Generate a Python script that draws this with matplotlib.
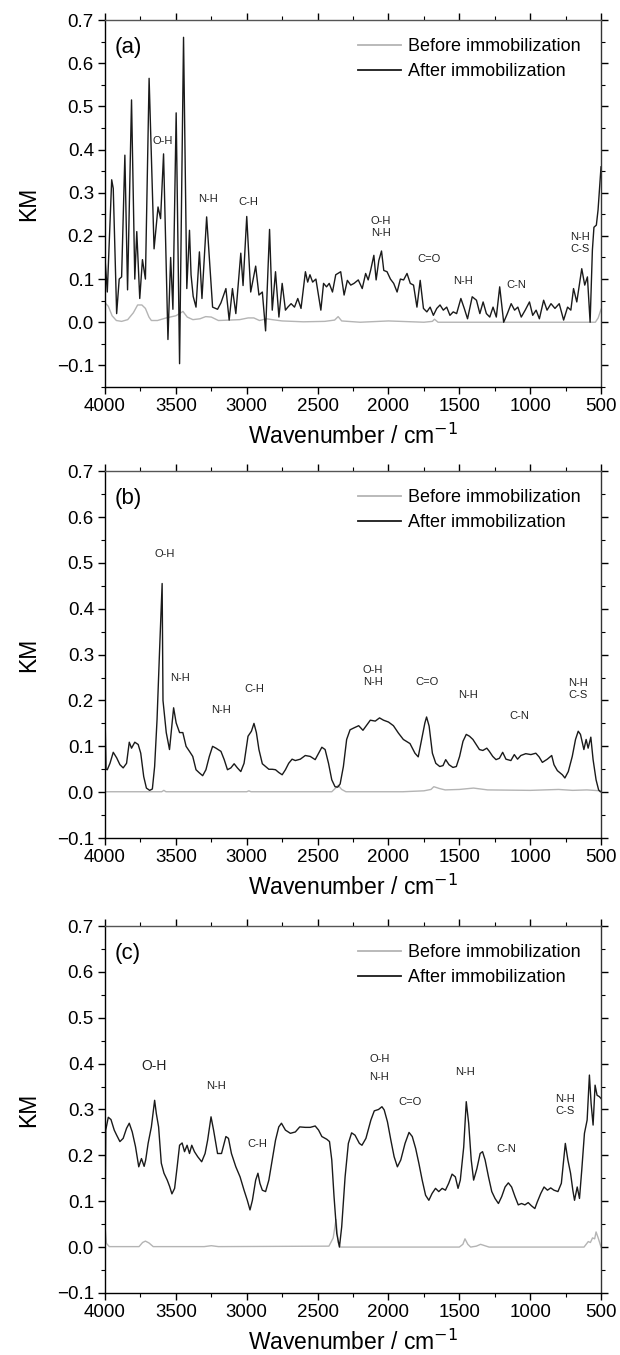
import matplotlib
matplotlib.use("Agg")
import matplotlib.pyplot as plt
from matplotlib.ticker import MultipleLocator, FuncFormatter

plt.rcParams['font.family'] = ['Liberation Sans', 'DejaVu Sans']

# === Panel (a) data ===
a_after_wn = [4000, 3984, 3953, 3942, 3918, 3900, 3883, 3860, 3841, 3813, 3790, 3776, 3755, 3736, 3715,
              3689, 3654, 3626, 3608, 3587, 3556, 3537, 3521, 3498, 3474, 3446, 3423, 3404, 3393, 3378,
              3358, 3334, 3316, 3283, 3241, 3206, 3182, 3147, 3124, 3101, 3077, 3042, 3026, 3000, 2972,
              2937, 2914, 2890, 2867, 2839, 2820, 2797, 2773, 2750, 2727, 2710, 2687, 2663, 2640, 2617,
              2586, 2570, 2554, 2535, 2512, 2477, 2458, 2437, 2418, 2395, 2372, 2337, 2313, 2290, 2266,
              2243, 2213, 2185, 2161, 2143, 2126, 2103, 2087, 2068, 2049, 2033, 2010, 1986, 1963, 1939,
              1916, 1893, 1869, 1846, 1823, 1799, 1776, 1753, 1729, 1706, 1683, 1659, 1636, 1613, 1589,
              1566, 1543, 1519, 1489, 1465, 1442, 1409, 1379, 1355, 1332, 1309, 1285, 1262, 1239, 1215,
              1187, 1161, 1134, 1110, 1087, 1063, 1035, 1005, 982, 958, 935, 905, 881, 853, 825,
              795, 764, 736, 713, 694, 671, 636, 615, 596, 577, 561, 550, 533, 521, 500]
a_after_km = [0.147, 0.07, 0.33, 0.31, 0.02, 0.10, 0.105, 0.387, 0.075, 0.515, 0.10, 0.21, 0.055, 0.145, 0.10,
              0.565, 0.17, 0.267, 0.24, 0.39, -0.04, 0.15, 0.03, 0.485, -0.096, 0.66, 0.078, 0.213, 0.11, 0.06,
              0.035, 0.163, 0.055, 0.244, 0.035, 0.03, 0.045, 0.078, 0.005, 0.078, 0.02, 0.16, 0.085, 0.245, 0.07,
              0.13, 0.063, 0.07, -0.02, 0.215, 0.028, 0.117, 0.012, 0.09, 0.028, 0.035, 0.043, 0.035, 0.055, 0.032,
              0.117, 0.093, 0.11, 0.093, 0.10, 0.028, 0.09, 0.082, 0.09, 0.07, 0.11, 0.117, 0.063, 0.097, 0.086,
              0.09, 0.098, 0.078, 0.113, 0.098, 0.12, 0.155, 0.098, 0.143, 0.165, 0.12, 0.117, 0.10, 0.09, 0.07,
              0.10, 0.098, 0.113, 0.09, 0.086, 0.035, 0.097, 0.032, 0.024, 0.035, 0.016, 0.032, 0.04, 0.028, 0.035,
              0.016, 0.024, 0.02, 0.055, 0.032, 0.008, 0.059, 0.051, 0.02, 0.047, 0.02, 0.012, 0.035, 0.012, 0.082,
              0.0, 0.02, 0.043, 0.028, 0.035, 0.012, 0.028, 0.047, 0.016, 0.028, 0.008, 0.051, 0.028, 0.043, 0.032,
              0.043, 0.005, 0.035, 0.028, 0.078, 0.047, 0.124, 0.086, 0.105, 0.0, 0.167, 0.22, 0.225, 0.26, 0.36]
a_before_wn = [4000, 3977, 3950, 3920, 3883, 3840, 3800, 3770, 3740, 3715, 3690, 3673, 3630, 3568, 3500,
               3450, 3420, 3380, 3330, 3290, 3250, 3200, 3120, 3050, 2990, 2950, 2910, 2860, 2820, 2750,
               2600, 2450, 2380, 2355, 2330, 2200, 2000, 1750, 1690, 1675, 1650, 1200, 800, 540, 520, 500]
a_before_km = [0.045, 0.037, 0.015, 0.004, 0.002, 0.006, 0.022, 0.04, 0.04, 0.032, 0.012, 0.004, 0.004, 0.01, 0.015,
               0.025, 0.012, 0.006, 0.008, 0.013, 0.012, 0.004, 0.005, 0.006, 0.01, 0.01, 0.004, 0.008, 0.006, 0.003,
               0.001, 0.002, 0.005, 0.013, 0.003, 0.0, 0.003, 0.0, 0.002, 0.007, 0.0, 0.0, 0.0, 0.0, 0.01, 0.03]

# === Panel (b) data ===
b_after_wn = [4000, 3998, 3993, 3984, 3965, 3942, 3918, 3895, 3872, 3848, 3829, 3813, 3790, 3766, 3748,
              3727, 3708, 3685, 3666, 3650, 3633, 3615, 3597, 3591, 3568, 3545, 3516, 3498, 3474, 3451,
              3428, 3404, 3381, 3358, 3334, 3311, 3288, 3264, 3241, 3217, 3182, 3159, 3136, 3112, 3089,
              3066, 3042, 3019, 2991, 2967, 2949, 2932, 2914, 2890, 2867, 2844, 2820, 2797, 2774, 2750,
              2727, 2704, 2680, 2657, 2622, 2587, 2552, 2517, 2493, 2470, 2447, 2423, 2400, 2377, 2358,
              2341, 2318, 2295, 2271, 2245, 2210, 2180, 2152, 2128, 2093, 2063, 2035, 2000, 1965, 1930,
              1895, 1848, 1813, 1790, 1766, 1743, 1731, 1713, 1690, 1666, 1638, 1615, 1596, 1573, 1545,
              1521, 1498, 1474, 1451, 1428, 1404, 1381, 1358, 1334, 1306, 1288, 1264, 1241, 1217, 1194,
              1171, 1136, 1112, 1089, 1066, 1031, 995, 960, 937, 914, 879, 848, 832, 808, 773,
              755, 731, 703, 680, 661, 645, 621, 605, 591, 572, 556, 535, 517, 505]
b_after_km = [0.02, 0.135, 0.05, 0.049, 0.063, 0.087, 0.075, 0.06, 0.053, 0.063, 0.109, 0.096, 0.109, 0.104, 0.085,
              0.034, 0.009, 0.004, 0.007, 0.056, 0.158, 0.31, 0.455, 0.2, 0.13, 0.093, 0.184, 0.151, 0.13, 0.13,
              0.10, 0.089, 0.078, 0.049, 0.042, 0.036, 0.049, 0.078, 0.10, 0.096, 0.089, 0.071, 0.049, 0.053, 0.062,
              0.053, 0.045, 0.063, 0.122, 0.133, 0.15, 0.13, 0.093, 0.062, 0.056, 0.05, 0.05, 0.049, 0.043, 0.038,
              0.049, 0.063, 0.072, 0.069, 0.072, 0.08, 0.078, 0.071, 0.085, 0.098, 0.093, 0.063, 0.027, 0.012, 0.011,
              0.018, 0.056, 0.115, 0.136, 0.14, 0.145, 0.135, 0.147, 0.157, 0.155, 0.162, 0.157, 0.153, 0.145, 0.129,
              0.115, 0.106, 0.085, 0.077, 0.115, 0.151, 0.164, 0.144, 0.085, 0.063, 0.056, 0.058, 0.071, 0.06, 0.054,
              0.056, 0.078, 0.111, 0.126, 0.122, 0.115, 0.104, 0.093, 0.091, 0.096, 0.089, 0.078, 0.071, 0.074, 0.087,
              0.072, 0.069, 0.082, 0.072, 0.08, 0.084, 0.082, 0.085, 0.077, 0.065, 0.072, 0.08, 0.06, 0.047, 0.038,
              0.031, 0.045, 0.078, 0.115, 0.133, 0.126, 0.093, 0.115, 0.096, 0.12, 0.071, 0.027, 0.005, 0.001]
b_before_wn = [4000, 3600, 3585, 3570, 3000, 2985, 2970, 2400, 2370, 2355, 2330, 2300, 1900, 1750, 1700,
               1680, 1640, 1600, 1500, 1400, 1300, 1000, 800, 700, 600, 500]
b_before_km = [0.001, 0.001, 0.004, 0.001, 0.001, 0.003, 0.001, 0.001, 0.01, 0.015, 0.006, 0.001, 0.001, 0.003, 0.006,
               0.012, 0.008, 0.005, 0.006, 0.009, 0.005, 0.004, 0.006, 0.004, 0.005, 0.003]

# === Panel (c) data ===
c_after_wn = [4000, 3995, 3977, 3958, 3935, 3918, 3895, 3872, 3848, 3829, 3808, 3785, 3762, 3743, 3724,
              3713, 3696, 3673, 3650, 3638, 3622, 3603, 3584, 3561, 3544, 3528, 3509, 3491, 3474, 3456,
              3439, 3421, 3404, 3388, 3369, 3346, 3318, 3294, 3276, 3252, 3234, 3206, 3178, 3147, 3129,
              3108, 3077, 3047, 3019, 2996, 2977, 2960, 2937, 2921, 2907, 2890, 2867, 2844, 2820, 2797,
              2774, 2755, 2727, 2692, 2657, 2626, 2587, 2552, 2517, 2493, 2470, 2435, 2416, 2400, 2384,
              2365, 2346, 2330, 2306, 2283, 2260, 2236, 2205, 2187, 2159, 2124, 2100, 2070, 2046, 2030,
              2007, 1983, 1960, 1937, 1913, 1883, 1855, 1832, 1808, 1785, 1762, 1738, 1715, 1692, 1668,
              1645, 1621, 1598, 1575, 1551, 1528, 1509, 1493, 1469, 1451, 1434, 1416, 1399, 1376, 1353,
              1336, 1318, 1294, 1271, 1248, 1224, 1201, 1177, 1154, 1131, 1107, 1084, 1061, 1037, 1014,
              991, 967, 949, 925, 902, 878, 855, 832, 804, 780, 752, 734, 715, 699, 687,
              668, 652, 636, 617, 598, 582, 570, 556, 542, 528, 512, 500]
c_after_km = [0.044, 0.255, 0.283, 0.278, 0.255, 0.244, 0.23, 0.237, 0.259, 0.27, 0.251, 0.219, 0.175, 0.193, 0.176,
              0.19, 0.226, 0.262, 0.32, 0.291, 0.262, 0.183, 0.161, 0.146, 0.132, 0.116, 0.128, 0.175, 0.222, 0.227,
              0.208, 0.222, 0.204, 0.222, 0.208, 0.197, 0.186, 0.204, 0.233, 0.284, 0.255, 0.204, 0.204, 0.241, 0.237,
              0.204, 0.175, 0.153, 0.124, 0.102, 0.081, 0.102, 0.146, 0.161, 0.139, 0.124, 0.121, 0.146, 0.19, 0.233,
              0.262, 0.27, 0.255, 0.248, 0.251, 0.262, 0.261, 0.261, 0.264, 0.255, 0.241, 0.235, 0.23, 0.19, 0.11,
              0.03, 0.0, 0.044, 0.153, 0.226, 0.249, 0.244, 0.226, 0.222, 0.237, 0.277, 0.297, 0.30, 0.306, 0.299,
              0.273, 0.233, 0.197, 0.175, 0.19, 0.226, 0.25, 0.241, 0.215, 0.182, 0.146, 0.113, 0.102, 0.117, 0.128,
              0.121, 0.128, 0.124, 0.139, 0.159, 0.153, 0.128, 0.146, 0.218, 0.317, 0.27, 0.19, 0.146, 0.171, 0.204,
              0.208, 0.19, 0.153, 0.121, 0.106, 0.095, 0.11, 0.131, 0.14, 0.131, 0.11, 0.092, 0.095, 0.092, 0.097,
              0.09, 0.084, 0.099, 0.117, 0.131, 0.124, 0.129, 0.124, 0.121, 0.139, 0.226, 0.19, 0.161, 0.124, 0.102,
              0.131, 0.106, 0.168, 0.248, 0.277, 0.375, 0.313, 0.266, 0.353, 0.331, 0.328, 0.324]
c_before_wn = [4000, 3990, 3970, 3760, 3735, 3715, 3690, 3660, 3300, 3250, 3200, 2420, 2390, 2370, 2355,
               2340, 1500, 1475, 1460, 1440, 1420, 1380, 1350, 1320, 1290, 620, 590, 575, 560, 545, 535, 520, 505, 500]
c_before_km = [0.045, 0.008, 0.001, 0.001, 0.01, 0.013, 0.009, 0.001, 0.001, 0.003, 0.001, 0.002, 0.02, 0.06, 0.01,
               0.0, 0.0, 0.006, 0.018, 0.006, 0.0, 0.002, 0.006, 0.003, 0.0, 0.0, 0.012, 0.01, 0.02, 0.018, 0.033, 0.02, 0.005, 0.0]

# === Peak labels: (text, wavenumber, KM, fontsize) ===
a_labels = [("O-H", 3591, 0.419, 8), ("N-H", 3276, 0.286, 8), ("C-H", 2991, 0.279, 8),
            ("O-H\nN-H", 2056, 0.221, 8), ("C=O", 1717, 0.147, 8), ("N-H", 1472, 0.095, 8),
            ("C-N", 1098, 0.087, 8), ("N-H\nC-S", 648, 0.184, 8)]
b_labels = [("O-H", 3581, 0.519, 8), ("N-H", 3474, 0.25, 8), ("N-H", 3182, 0.18, 8),
            ("C-H", 2944, 0.226, 8), ("O-H\nN-H", 2110, 0.254, 8), ("C=O", 1731, 0.24, 8),
            ("N-H", 1439, 0.211, 8), ("C-N", 1077, 0.167, 8), ("N-H\nC-S", 664, 0.226, 8)]
c_labels = [("O-H", 3657, 0.395, 10), ("N-H", 3217, 0.351, 8), ("C-H", 2925, 0.225, 8),
            ("O-H", 2065, 0.409, 8), ("N-H", 2065, 0.37, 8), ("C=O", 1848, 0.317, 8),
            ("N-H", 1458, 0.382, 8), ("C-N", 1166, 0.214, 8), ("N-H\nC-S", 757, 0.309, 8)]

panels = [
    ("(a)", a_before_wn, a_before_km, a_after_wn, a_after_km, a_labels, (-0.15, 0.7), 0.7144),
    ("(b)", b_before_wn, b_before_km, b_after_wn, b_after_km, b_labels, (-0.1, 0.7), 0.3815),
    ("(c)", c_before_wn, c_before_km, c_after_wn, c_after_km, c_labels, (-0.1, 0.7), 0.0458),
]


def km_fmt(v, pos):
    return ('%.1f' % v).replace('-', '\u2212')


fig = plt.figure(figsize=(6.2, 13.55), dpi=100)

for tag, bwn, bkm, awn, akm, labels, ylim, bottom in panels:
    ax = fig.add_axes([0.1694, bottom, 0.80, 0.2708])
    ax.plot(bwn, bkm, color='#b4b4b4', lw=1.0, label='Before immobilization')
    ax.plot(awn, akm, color='#1a1a1a', lw=1.0, label='After immobilization')

    ax.set_xlim(4000, 500)
    ax.set_ylim(*ylim)
    ax.xaxis.set_major_locator(MultipleLocator(500))
    ax.xaxis.set_minor_locator(MultipleLocator(250))
    ax.yaxis.set_major_locator(MultipleLocator(0.1))
    ax.yaxis.set_minor_locator(MultipleLocator(0.05))
    ax.yaxis.set_major_formatter(FuncFormatter(km_fmt))
    ax.tick_params(axis='both', which='major', direction='out', length=5, width=1,
                   labelsize=13.5, pad=3)
    ax.tick_params(axis='both', which='minor', direction='out', length=3, width=0.8)
    ax.tick_params(top=True, right=True, which='both', length=2, color='#c8c8c8')
    ax.tick_params(bottom=True, left=True, which='major', length=5, color='black')
    ax.tick_params(bottom=True, left=True, which='minor', length=3, color='black')
    for s in ax.spines.values():
        s.set_linewidth(1.0)
    ax.spines['top'].set_color('#555555')
    ax.spines['right'].set_color('#333333')

    ax.set_xlabel('Wavenumber / cm$^{\u22121}$', fontsize=16.5, labelpad=6)
    ax.set_ylabel('KM', fontsize=16.5, labelpad=12)

    ax.text(0.02, 0.955, tag, transform=ax.transAxes, fontsize=16, va='top', ha='left')

    leg = ax.legend(loc='upper right', frameon=False, fontsize=13, handlelength=2.4,
                    handletextpad=0.4, labelspacing=0.45, borderaxespad=0.3,
                    bbox_to_anchor=(0.985, 0.985))
    for line in leg.get_lines():
        line.set_linewidth(1.3)

    for text, wn, km, fs in labels:
        ax.text(wn, km, text, fontsize=fs, ha='center', va='center', color='#222222',
                linespacing=1.25)

fig.savefig('out.png', dpi=100)
